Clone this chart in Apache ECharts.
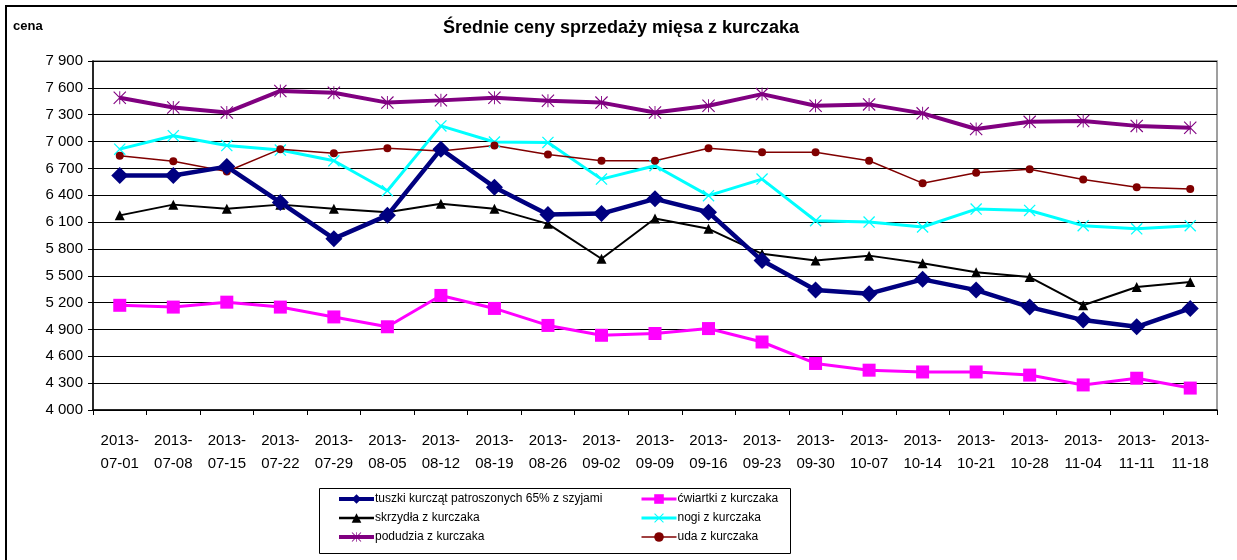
<!DOCTYPE html>
<html>
<head>
<meta charset="utf-8">
<script src="https://cdn.jsdelivr.net/npm/echarts@6/dist/echarts.min.js"></script>
<style>html,body{margin:0;padding:0;background:#fff;}#chart{width:1237px;height:560px;}</style>
</head>
<body>
<div id="chart"></div>
<script>
const categories = ['2013-07-01','2013-07-08','2013-07-15','2013-07-22','2013-07-29','2013-08-05','2013-08-12','2013-08-19','2013-08-26','2013-09-02','2013-09-09','2013-09-16','2013-09-23','2013-09-30','2013-10-07','2013-10-14','2013-10-21','2013-10-28','2013-11-04','2013-11-11','2013-11-18'];
const tuszki =   [6620,6620,6720,6320,5915,6175,6915,6490,6185,6195,6360,6210,5670,5340,5300,5460,5340,5150,5005,4930,5135];
const cwiartki = [5170,5150,5205,5150,5040,4930,5280,5135,4945,4835,4855,4910,4760,4520,4445,4425,4425,4390,4280,4355,4245];
const skrzydla = [6175,6295,6250,6295,6250,6210,6305,6250,6080,5690,6140,6025,5745,5670,5725,5640,5540,5485,5170,5375,5430];
const nogi =     [6915,7065,6955,6905,6785,6450,7175,6995,6990,6580,6730,6395,6580,6115,6100,6045,6245,6230,6060,6025,6060];
const podudzia = [7490,7380,7325,7565,7545,7435,7460,7490,7455,7435,7325,7400,7530,7400,7415,7315,7140,7220,7230,7175,7155];
const uda =      [6840,6780,6665,6915,6870,6925,6895,6955,6855,6785,6785,6925,6880,6880,6785,6535,6650,6690,6575,6490,6470];
const seriesNames = ['tuszki kurcząt patroszonych 65% z szyjami','ćwiartki z kurczaka','skrzydła z kurczaka','nogi z kurczaka','podudzia z kurczaka','uda z kurczaka'];
const titleText = 'Średnie ceny sprzedaży mięsa z kurczaka';
const yAxisName = 'cena';

const FONT = '"Liberation Sans", Arial, sans-serif';
const X_SYMBOL = 'path://M0,1.5 L1.5,0 L20,18.5 L18.5,20 Z M18.5,0 L20,1.5 L1.5,20 L0,18.5 Z';
const STAR_SYMBOL = 'path://M0,1.2 L1.2,0 L20,18.8 L18.8,20 Z M18.8,0 L20,1.2 L1.2,20 L0,18.8 Z M9.3,0 L10.7,0 L10.7,20 L9.3,20 Z';

function fmt(v){ return String(v).replace(/\B(?=(\d{3})+(?!\d))/g,' '); }

const legendWidths = [4, 3, 2.5, 3, 4, 1.5];
function legendItems(idx){ return idx.map(i => ({name: seriesNames[i], lineStyle: {width: legendWidths[i]}})); }

const chart = echarts.init(document.getElementById('chart'), null, {renderer:'canvas'});
const option = {
  backgroundColor: '#ffffff',
  animation: false,
  graphic: [
    {type:'rect', shape:{x:6, y:6, width:1250, height:570}, style:{fill:'none', stroke:'#000', lineWidth:2}, silent:true, z:-1},
    {type:'text', left: 13, top: 20, style:{text: yAxisName, font: 'bold 13px ' + FONT, fill:'#000'}},
    {type:'text', x: 621, y: 28, style:{text: titleText, font: 'bold 18px ' + FONT, fill:'#000', textAlign:'center', textVerticalAlign:'middle'}},
    {type:'rect', shape:{x:319.5, y:488.5, width:471, height:65}, style:{fill:'none', stroke:'#000', lineWidth:1}, silent:true}
  ],
  legend: [
    {data: legendItems([0,2,4]), orient:'vertical', left: 337, top: 493, itemWidth: 35, itemHeight: 12, itemGap: 7, padding: 0,
     textStyle:{fontFamily: FONT, fontSize: 12, color:'#000', padding:[0,0,0,-4]}},
    {data: legendItems([1,3,5]), orient:'vertical', left: 640, top: 493, itemWidth: 35, itemHeight: 12, itemGap: 7, padding: 0,
     textStyle:{fontFamily: FONT, fontSize: 12, color:'#000', padding:[0,0,0,-4]}}
  ],
  grid: {left: 93, right: 20, top: 61, bottom: 150, show: true, borderColor: '#808080', borderWidth: 1.5, backgroundColor: '#fff'},
  xAxis: {
    type: 'category', data: categories, boundaryGap: true,
    axisLine: {lineStyle: {color: '#000', width: 1.5}},
    axisTick: {show: true, alignWithLabel: false, length: 5, lineStyle:{color:'#000'}},
    axisLabel: {interval: 0, color: '#000', fontFamily: FONT, fontSize: 15, lineHeight: 23, margin: 19,
      formatter: v => v.slice(0,5) + '\n' + v.slice(5)}
  },
  yAxis: {
    type: 'value', min: 4000, max: 7900, interval: 300,
    axisLine: {show: true, lineStyle: {color: '#000', width: 1.5}},
    axisTick: {show: true, length: 5, lineStyle:{color:'#000'}},
    splitLine: {show: true, lineStyle: {color: '#000', width: 1}},
    axisLabel: {color: '#000', fontFamily: FONT, fontSize: 15, margin: 10, formatter: fmt}
  },
  series: [
    {name: seriesNames[0], type:'line', data: tuszki, symbol:'diamond', symbolSize: 17, z: 6,
     lineStyle:{color:'#000080', width:4.5}, itemStyle:{color:'#000080'}},
    {name: seriesNames[1], type:'line', data: cwiartki, symbol:'rect', symbolSize: 13, z: 5,
     lineStyle:{color:'#FF00FF', width:3}, itemStyle:{color:'#FF00FF'}},
    {name: seriesNames[2], type:'line', data: skrzydla, symbol:'triangle', symbolSize: 10, z: 4,
     lineStyle:{color:'#000000', width:2}, itemStyle:{color:'#000000'}},
    {name: seriesNames[3], type:'line', data: nogi, symbol: X_SYMBOL, symbolSize: 12, z: 3,
     lineStyle:{color:'#00FFFF', width:3}, itemStyle:{color:'#00FFFF'}},
    {name: seriesNames[4], type:'line', data: podudzia, symbol: STAR_SYMBOL, symbolSize: 13, z: 3,
     lineStyle:{color:'#800080', width:4}, itemStyle:{color:'#800080'}},
    {name: seriesNames[5], type:'line', data: uda, symbol:'circle', symbolSize: 8, z: 3,
     lineStyle:{color:'#800000', width:1.5}, itemStyle:{color:'#800000'}}
  ]
};
chart.setOption(option);
</script>
</body>
</html>
